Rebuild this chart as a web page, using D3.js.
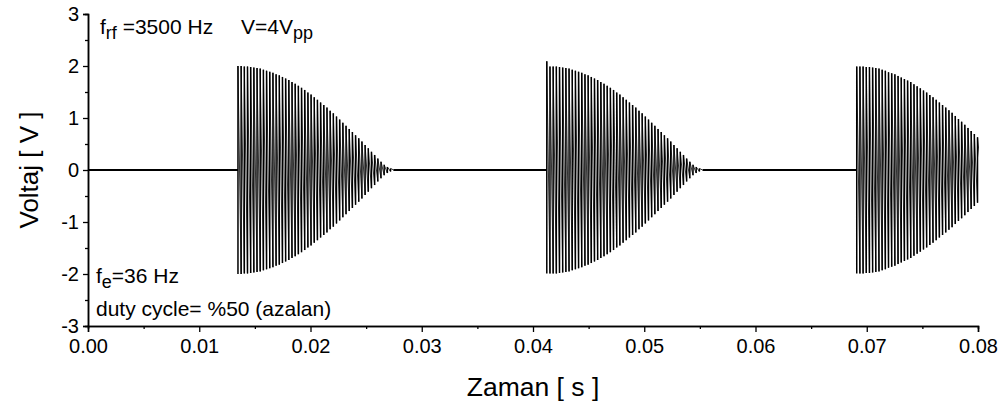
<!DOCTYPE html>
<html>
<head>
<meta charset="utf-8">
<script src="https://cdn.jsdelivr.net/npm/d3@7"></script>
<style>
  body { margin: 0; background: #fff; }
  text { font-family: "Liberation Sans", Arial, sans-serif; fill: #000; }
</style>
</head>
<body>
<div id="chart"></div>
<script>
// ====================== DATA ======================

// start time of each rf burst [s] (envelope 36 Hz, 50% duty)
const burstStarts = [0.01348, 0.04124, 0.06910];

// rf carrier
const carrierHz = 3500;

// peak amplitude of every carrier cycle in each burst [V]
const burst1Peaks = [2.00, 2.00, 1.99, 1.99, 1.98, 1.97, 1.96, 1.95, 1.93, 1.91,
  1.89, 1.87, 1.84, 1.82, 1.79, 1.76, 1.73, 1.69, 1.66, 1.62,
  1.58, 1.54, 1.49, 1.45, 1.40, 1.35, 1.30, 1.25, 1.20, 1.14,
  1.09, 1.03, 0.97, 0.91, 0.85, 0.79, 0.73, 0.67, 0.61, 0.55,
  0.48, 0.42, 0.35, 0.29, 0.22, 0.16, 0.10, 0.06, 0.03];

const burst2Peaks = [2.09, 1.99, 1.99, 1.99, 1.98, 1.97, 1.96, 1.95, 1.93, 1.91,
  1.89, 1.87, 1.84, 1.82, 1.79, 1.76, 1.73, 1.69, 1.66, 1.62,
  1.58, 1.54, 1.49, 1.45, 1.40, 1.35, 1.30, 1.25, 1.20, 1.14,
  1.09, 1.03, 0.97, 0.91, 0.85, 0.79, 0.73, 0.67, 0.61, 0.55,
  0.48, 0.42, 0.35, 0.29, 0.22, 0.16, 0.10, 0.06, 0.03];

const burst3Peaks = [1.99, 1.99, 1.99, 1.98, 1.98, 1.97, 1.96, 1.95, 1.93, 1.91,
  1.88, 1.86, 1.84, 1.81, 1.78, 1.75, 1.72, 1.69, 1.65, 1.61,
  1.57, 1.53, 1.49, 1.44, 1.40, 1.35, 1.30, 1.25, 1.20, 1.15,
  1.10, 1.04, 0.98, 0.93, 0.87, 0.81, 0.75, 0.69, 0.63];

// flat (off) parts of the signal [s]
const quietSpans = [[0.0, 0.01348], [0.02745, 0.04124], [0.05524, 0.06910]];

const xTicks = [0, 0.01, 0.02, 0.03, 0.04, 0.05, 0.06, 0.07, 0.08];
const yTicks = [-3, -2, -1, 0, 1, 2, 3];

// ====================== CHART ======================
const w = 1005;
const h = 407;
const margin = {top: 14, right: 27, bottom: 81, left: 88};

const svg = d3.select("#chart").append("svg")
  .attr("width", w)
  .attr("height", h);

const xScale = d3.scaleLinear()
  .domain([0, 0.08])
  .range([margin.left, w - margin.right]);

const yScale = d3.scaleLinear()
  .domain([-3, 3])
  .range([h - margin.bottom, margin.top]);

svg.append("clipPath").attr("id", "plot-clip")
  .append("rect")
  .attr("x", margin.left).attr("y", 0)
  .attr("width", w - margin.right - margin.left + 1)
  .attr("height", h);

const plot = svg.append("g").attr("clip-path", "url(#plot-clip)");

// quiet baseline
plot.selectAll(".quiet")
  .data(quietSpans)
  .enter().append("line")
  .attr("class", "quiet")
  .attr("x1", d => xScale(d[0]))
  .attr("x2", d => xScale(d[1]))
  .attr("y1", yScale(0))
  .attr("y2", yScale(0))
  .attr("stroke", "#000")
  .attr("stroke-width", 1.8);

// bursts: sharp rise on each cycle, then a slanted fall to the next trough
const period = 1 / carrierHz;
const bursts = [burst1Peaks, burst2Peaks, burst3Peaks];

bursts.forEach((peaks, i) => {
  let t0 = burstStarts[i];
  let rise = d3.path();
  let fall = d3.path();

  peaks.forEach((p, k) => {
    let t = t0 + k * period;
    let next = k < peaks.length - 1 ? peaks[k + 1] : 0;
    // first trough of a burst sits at the level of the second cycle
    let low = k === 0 ? peaks[1] : p;
    rise.moveTo(xScale(t), yScale(-low));
    rise.lineTo(xScale(t), yScale(p));
    fall.moveTo(xScale(t), yScale(p));
    fall.lineTo(xScale(t + period), yScale(-next));
  });

  plot.append("path")
    .attr("d", fall.toString())
    .attr("fill", "none")
    .attr("stroke", "#333")
    .attr("stroke-width", 1);

  plot.append("path")
    .attr("d", rise.toString())
    .attr("fill", "none")
    .attr("stroke", "#000")
    .attr("stroke-width", 1.5);
});

// ---------------- axes ----------------

const fmtX = d3.format(".2f");

let xAxisMinor = d3.axisBottom(xScale)
  .tickValues(d3.range(0.005, 0.08, 0.01))
  .tickSize(3)
  .tickFormat("");

let xAxisGen = d3.axisBottom(xScale)
  .tickValues(xTicks)
  .tickSize(6)
  .tickPadding(7)
  .tickFormat(fmtX);

let yAxisMinor = d3.axisLeft(yScale)
  .tickValues(d3.range(-2.5, 3, 1))
  .tickSize(3)
  .tickFormat("");

let yAxisGen = d3.axisLeft(yScale)
  .tickValues(yTicks)
  .tickSize(5)
  .tickPadding(4)
  .tickFormat(d => String(d));

const axisStyle = g => {
  g.select(".domain").attr("stroke-width", 1.5);
  g.selectAll(".tick line").attr("stroke-width", 1.3);
  g.selectAll(".tick text").attr("font-size", 20);
  g.attr("font-family", null);
};

svg.append("g")
  .attr("transform", "translate(0," + (h - margin.bottom) + ")")
  .call(xAxisMinor)
  .call(axisStyle);

svg.append("g")
  .attr("class", "x-axis")
  .attr("transform", "translate(0," + (h - margin.bottom) + ")")
  .call(xAxisGen)
  .call(axisStyle);

svg.append("g")
  .attr("transform", "translate(" + margin.left + ",0)")
  .call(yAxisMinor)
  .call(axisStyle);

svg.append("g")
  .attr("class", "y-axis")
  .attr("transform", "translate(" + margin.left + ",0)")
  .call(yAxisGen)
  .call(axisStyle);

// axis titles
svg.append("text")
  .attr("x", (margin.left + w - margin.right) / 2)
  .attr("y", 396)
  .attr("text-anchor", "middle")
  .attr("font-size", 26.5)
  .text("Zaman [ s ]");

svg.append("text")
  .attr("transform", "translate(38," + ((margin.top + h - margin.bottom) / 2) + ") rotate(-90)")
  .attr("text-anchor", "middle")
  .attr("font-size", 26)
  .text("Voltaj [ V ]");

// ---------------- annotations ----------------

const note = (x, y, parts) => {
  let t = svg.append("text")
    .attr("x", x)
    .attr("y", y)
    .attr("font-size", 21);
  parts.forEach(p => {
    t.append("tspan")
      .attr("dy", p.dy || 0)
      .attr("font-size", p.sub ? 18 : 21)
      .text(p.s);
  });
};

note(100, 34, [{s: "f"}, {s: "rf", sub: true, dy: 5}, {s: " =3500 Hz", dy: -5}]);
note(241, 34, [{s: "V=4V"}, {s: "pp", sub: true, dy: 5}]);
note(96, 283, [{s: "f"}, {s: "e", sub: true, dy: 5}, {s: "=36 Hz", dy: -5}]);
note(96, 316, [{s: "duty cycle= %50 (azalan)"}]);
</script>
</body>
</html>
